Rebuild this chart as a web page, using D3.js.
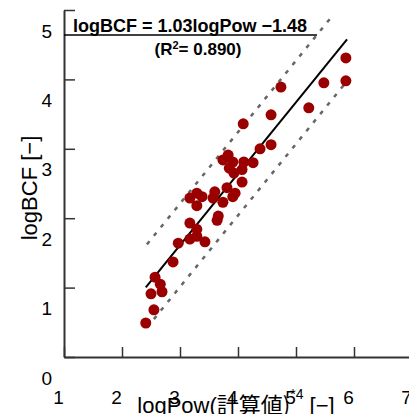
<!DOCTYPE html>
<html>
<head>
<meta charset="utf-8">
<script src="https://cdn.jsdelivr.net/npm/d3@7"></script>
<style>
body { margin: 0; background: #fff; }
svg { display: block; }
</style>
</head>
<body>
<div id="chart"></div>
<script>
// data
var logPow = [2.41, 2.55, 2.50, 2.69, 2.66, 2.57, 2.88, 2.97, 3.17, 3.29, 3.43, 3.29, 3.17, 3.64, 3.66,
  3.29, 3.17, 3.38, 3.29, 3.57, 3.74, 3.60, 3.81, 3.95, 3.91, 4.07, 3.93, 3.85, 4.07, 3.74,
  3.91, 4.10, 4.26, 3.83, 4.38, 4.57, 4.09, 4.57, 4.74, 5.22, 5.48, 5.86, 5.86];
var logBCF = [0.49, 0.68, 0.91, 0.94, 1.05, 1.15, 1.37, 1.64, 1.70, 1.74, 1.66, 1.84, 1.93, 1.97, 2.03,
  2.18, 2.29, 2.31, 2.36, 2.29, 2.23, 2.38, 2.44, 2.36, 2.31, 2.52, 2.65, 2.72, 2.70, 2.84,
  2.81, 2.81, 2.80, 2.91, 3.00, 3.06, 3.36, 3.49, 3.89, 3.59, 3.95, 3.98, 4.31];
var xTicks = [1, 2, 3, 4, 5, 6, 7];
var yTicks = [0, 1, 2, 3, 4, 5];
var slope = 1.03, intercept = -1.48, band = 0.6;
var fitRange = [2.41, 5.88];
var upperRange = [2.43, 5.64];
var lowerRange = [2.43, 5.85];
var eqText = "logBCF = 1.03logPow \u22121.48";
var r2Text = "0.890";

var W = 409, H = 414;
var x = d3.scaleLinear().domain([1, 7]).range([64, 412]);
var y = d3.scaleLinear().domain([0, 5]).range([357, 10]);

var svg = d3.select("#chart").append("svg")
  .attr("width", W).attr("height", H)
  .style("font-family", "'Liberation Sans', Arial, sans-serif");

// axes
var gx = svg.append("g").attr("transform", "translate(0," + y(0) + ")")
  .call(d3.axisBottom(x).tickValues(xTicks).tickFormat(d3.format("d")).tickSize(-10).tickSizeOuter(0));
var gy = svg.append("g").attr("transform", "translate(" + x(1) + ",0)")
  .call(d3.axisLeft(y).tickValues(yTicks).tickFormat(d3.format("d")).tickSize(-11).tickSizeOuter(0));

[gx, gy].forEach(function(g) {
  g.select(".domain").attr("stroke", "#333").attr("stroke-width", 2);
  g.selectAll(".tick line").attr("stroke", "#333").attr("stroke-width", 1.5);
  g.selectAll(".tick text").attr("fill", "#000").style("font-size", "19px")
    .style("font-family", "'Liberation Sans', Arial, sans-serif");
});
// tick labels sit shifted from their ticks in the original
gx.selectAll(".tick text").attr("y", 34).attr("dx", -6);
gy.selectAll(".tick text").attr("x", -12).attr("dy", "0.32em")
  .attr("transform", "translate(0,21)");

// prediction band (dashed) and fit line
var line = d3.line().x(function(d) { return x(d[0]); }).y(function(d) { return y(d[1]); });
function seg(r, off) {
  return r.map(function(v) { return [v, slope * v + intercept + off]; });
}
svg.append("path").datum(seg(upperRange, band)).attr("d", line)
  .attr("fill", "none").attr("stroke", "#666").attr("stroke-width", 2.5)
  .attr("stroke-dasharray", "4,7");
svg.append("path").datum(seg(lowerRange, -band)).attr("d", line)
  .attr("fill", "none").attr("stroke", "#666").attr("stroke-width", 2.5)
  .attr("stroke-dasharray", "4,7");
svg.append("path").datum(seg(fitRange, 0)).attr("d", line)
  .attr("fill", "none").attr("stroke", "#000").attr("stroke-width", 2);

// points
svg.selectAll("circle.pt").data(logPow).enter().append("circle")
  .attr("class", "pt")
  .attr("cx", function(d) { return x(d); })
  .attr("cy", function(d, i) { return y(logBCF[i]); })
  .attr("r", 5.5)
  .attr("fill", "#9b0000");

// equation box
svg.append("line").attr("x1", 64).attr("x2", 317).attr("y1", 35).attr("y2", 35)
  .attr("stroke", "#000").attr("stroke-width", 1.5);
svg.append("text").attr("x", 190).attr("y", 32).attr("text-anchor", "middle")
  .style("font-size", "18px").style("font-weight", "bold").text(eqText);
var r2 = svg.append("text").attr("x", 198).attr("y", 55).attr("text-anchor", "middle")
  .style("font-size", "17px").style("font-weight", "bold");
r2.append("tspan").text("(R");
r2.append("tspan").attr("dy", -6).style("font-size", "11px").text("2");
r2.append("tspan").attr("dy", 6).text("= " + r2Text + ")");

// axis titles
svg.append("text")
  .attr("transform", "translate(37,188) rotate(-90)")
  .attr("text-anchor", "middle")
  .style("font-size", "22px")
  .text("logBCF [\u2212]");

var xl = svg.append("text").attr("x", 236).attr("y", 413).attr("text-anchor", "middle")
  .style("font-size", "22px")
  .style("font-family", "'Liberation Sans', 'Noto Sans CJK JP', sans-serif");
xl.append("tspan").text("logPow(");
xl.append("tspan").style("font-family", "'Noto Sans CJK JP', sans-serif").text("計算値)");
xl.append("tspan").attr("dy", -14).style("font-size", "14px").text("*4");
xl.append("tspan").attr("dy", 14).text(" [\u2212]");
</script>
</body>
</html>
